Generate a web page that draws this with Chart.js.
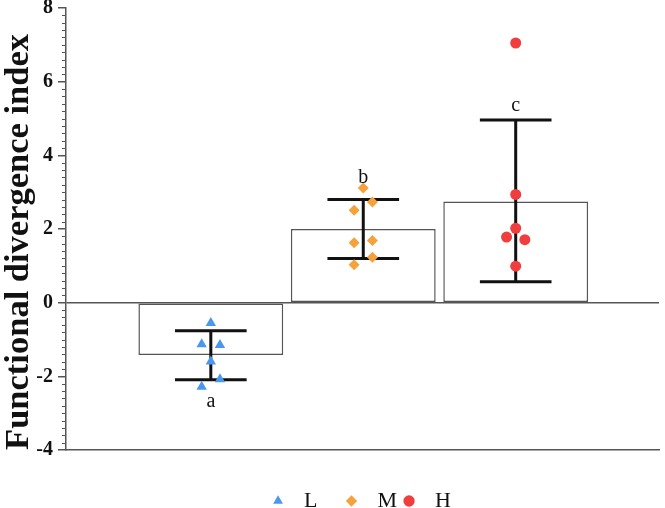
<!DOCTYPE html>
<html lang="en">
<head>
    <meta charset="UTF-8">
    <title>Functional divergence index</title>
    <script src="https://cdn.jsdelivr.net/npm/chart.js"></script>
    <style>
        html, body { margin: 0; padding: 0; background: #fff; }
        #wrap { width: 665px; height: 508px; }
    </style>
</head>
<body>
<div id="wrap"><canvas id="myChart" width="665" height="508"></canvas></div>
<script>
    // groups and bar values (mean, error bar ends)
    const categories = ['L', 'M', 'H'];
    const xPos = [1, 2, 3];
    const barMeans = [-1.42, 2.00, 2.75];
    const errLow = [-2.09, 1.20, 0.57];
    const errHigh = [-0.76, 2.80, 4.96];
    const groupLetters = ['a', 'b', 'c'];

    // individual points for each group, with small horizontal jitter
    const pointsL = [-0.55, -1.13, -1.15, -1.60, -2.08, -2.28];
    const jitterL = [0, -0.06, 0.06, 0, 0.06, -0.06];
    const pointsM = [3.11, 2.73, 2.51, 1.63, 1.69, 1.23, 1.03];
    const jitterM = [0, 0.06, -0.06, -0.06, 0.06, 0.06, -0.06];
    const pointsH = [7.05, 2.94, 2.02, 1.78, 1.71, 0.99];
    const jitterH = [0, 0, 0, -0.06, 0.06, 0];

    const yTicks = [-4, -2, 0, 2, 4, 6, 8];

    const axisColor = '#555';
    const serif = "'Liberation Serif', 'Times New Roman', serif";

    function toPoints(base, vals, jit) {
        return vals.map((v, i) => ({ x: base + jit[i], y: v }));
    }

    // error bars, letters and minor ticks, drawn with the chart scales
    const extrasPlugin = {
        id: 'extras',
        afterDatasetDraw(chart, args) {
            if (args.index !== 0) return;
            const ctx = chart.ctx;
            const xs = chart.scales.x, ys = chart.scales.y;
            const capHalf = 0.235;
            ctx.save();
            ctx.strokeStyle = '#111';
            ctx.lineWidth = 3;
            xPos.forEach((x, i) => {
                const cx = xs.getPixelForValue(x);
                const x0 = xs.getPixelForValue(x - capHalf);
                const x1 = xs.getPixelForValue(x + capHalf);
                const yl = ys.getPixelForValue(errLow[i]);
                const yh = ys.getPixelForValue(errHigh[i]);
                ctx.beginPath();
                ctx.moveTo(cx, yl); ctx.lineTo(cx, yh);
                ctx.moveTo(x0, yl); ctx.lineTo(x1, yl);
                ctx.moveTo(x0, yh); ctx.lineTo(x1, yh);
                ctx.stroke();
            });
            ctx.restore();
        },
        afterDraw(chart) {
            const ctx = chart.ctx;
            const xs = chart.scales.x, ys = chart.scales.y;
            ctx.save();
            // letters
            ctx.fillStyle = '#111';
            ctx.font = '20px ' + serif;
            ctx.textAlign = 'center';
            ctx.textBaseline = 'alphabetic';
            const shifts = [27, -17, -9];
            xPos.forEach((x, i) => {
                const cx = xs.getPixelForValue(x);
                const y = barMeans[i] < 0
                    ? ys.getPixelForValue(errLow[i]) + shifts[i]
                    : ys.getPixelForValue(errHigh[i]) + shifts[i];
                ctx.fillText(groupLetters[i], cx, y);
            });
            // minor ticks
            ctx.strokeStyle = axisColor;
            ctx.lineWidth = 1;
            const left = chart.chartArea.left;
            ctx.beginPath();
            for (let k = 0; k <= 60; k++) {
                if (k % 10 === 0) continue;
                const v = -4 + k * 0.2;
                const py = Math.round(ys.getPixelForValue(v)) + 0.5;
                ctx.moveTo(left - 4, py);
                ctx.lineTo(left, py);
            }
            ctx.stroke();
            ctx.restore();
        }
    };

    const ctx = document.getElementById('myChart').getContext('2d');
    new Chart(ctx, {
        data: {
            datasets: [
                {
                    type: 'bar',
                    label: 'mean',
                    data: xPos.map((x, i) => ({ x: x, y: barMeans[i] })),
                    backgroundColor: '#fff',
                    borderColor: axisColor,
                    borderWidth: 1.5,
                    borderSkipped: false,
                    barPercentage: 0.95,
                    categoryPercentage: 1,
                    order: 1
                },
                {
                    type: 'scatter',
                    label: categories[0],
                    data: toPoints(xPos[0], pointsL, jitterL),
                    pointStyle: 'triangle',
                    pointRadius: 6,
                    backgroundColor: '#4a98ee',
                    borderColor: '#4a98ee',
                    borderWidth: 0,
                    order: 0
                },
                {
                    type: 'scatter',
                    label: categories[1],
                    data: toPoints(xPos[1], pointsM, jitterM),
                    pointStyle: 'rectRot',
                    pointRadius: 5.5,
                    backgroundColor: '#f6a23c',
                    borderColor: '#f6a23c',
                    borderWidth: 0,
                    order: 0
                },
                {
                    type: 'scatter',
                    label: categories[2],
                    data: toPoints(xPos[2], pointsH, jitterH),
                    pointStyle: 'circle',
                    pointRadius: 5.5,
                    backgroundColor: '#f03d3d',
                    borderColor: '#f03d3d',
                    borderWidth: 0,
                    order: 0
                }
            ]
        },
        options: {
            responsive: false,
            animation: false,
            layout: { padding: { top: 0, right: -4, left: 0, bottom: -14 } },
            plugins: {
                tooltip: { enabled: false },
                legend: {
                    position: 'bottom',
                    fullSize: false,
                    labels: {
                        usePointStyle: true,
                        boxWidth: 8,
                        boxHeight: 8,
                        padding: 8,
                        color: '#111',
                        font: { family: serif, size: 22 },
                        filter: item => item.datasetIndex > 0,
                        generateLabels: chart => {
                            const base = Chart.defaults.plugins.legend.labels.generateLabels(chart);
                            return base.map(item => Object.assign(item, {
                                text: '  ' + item.text + (item.datasetIndex === 1 ? '    ' : '')
                            }));
                        }
                    }
                }
            },
            scales: {
                x: {
                    type: 'linear',
                    offset: false,
                    min: 0.05,
                    max: 3.94,
                    afterBuildTicks: s => { s.ticks = xPos.map(v => ({ value: v })); },
                    ticks: { display: false },
                    grid: { display: false, drawTicks: false, offset: false },
                    border: { display: true, color: axisColor, width: 1.5 },
                    afterFit: s => { s.height = 32; s.paddingLeft = 0; s.paddingRight = 0; }
                },
                y: {
                    min: -4,
                    max: 8,
                    afterBuildTicks: s => { s.ticks = yTicks.map(v => ({ value: v })); },
                    ticks: {
                        color: '#111',
                        padding: 5,
                        font: { family: serif, size: 20, weight: 'bold' }
                    },
                    grid: {
                        drawOnChartArea: true,
                        drawTicks: true,
                        tickLength: 8,
                        tickColor: axisColor,
                        lineWidth: 1.5,
                        color: c => (c.tick && c.tick.value === 0 ? axisColor : 'rgba(0,0,0,0)')
                    },
                    border: { display: true, color: axisColor, width: 1.5 },
                    title: {
                        display: true,
                        text: 'Functional divergence index   ',
                        color: '#111',
                        padding: { top: 2, bottom: 0 },
                        font: { family: serif, size: 34.5, weight: 'bold', lineHeight: 1 }
                    },
                    afterFit: s => { s.width = 66; s.paddingTop = 8; }
                }
            }
        },
        plugins: [extrasPlugin]
    });
</script>
</body>
</html>
